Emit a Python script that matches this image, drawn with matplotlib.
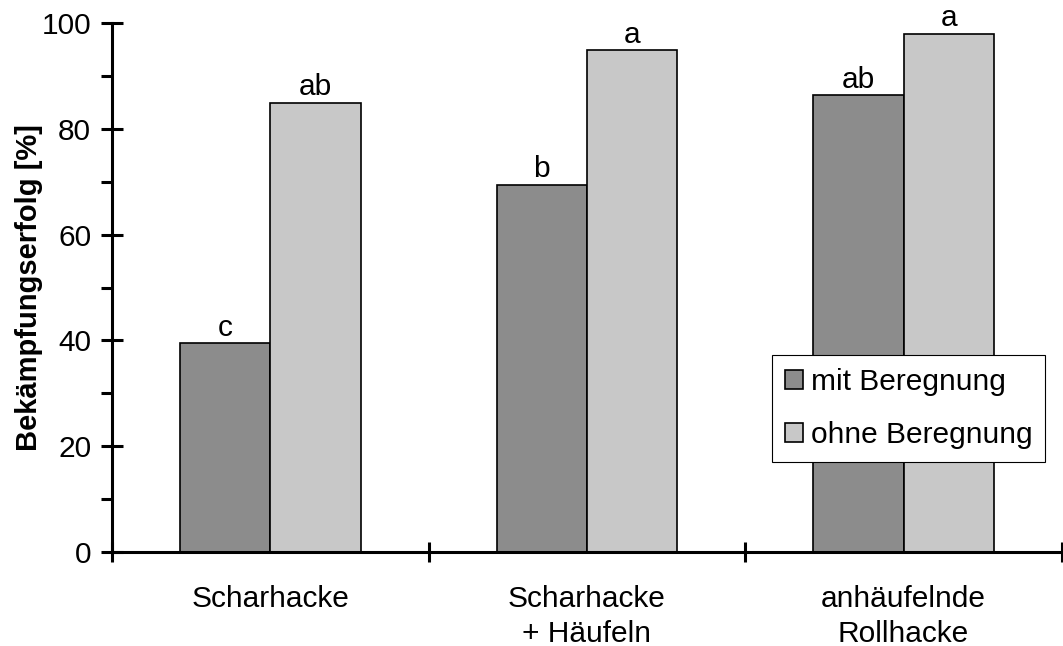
import matplotlib.pyplot as plt
import numpy as np

plt.rcParams['font.family'] = ['Liberation Sans', 'DejaVu Sans']

categories = ['Scharhacke', 'Scharhacke\n+ Häufeln', 'anhäufelnde\nRollhacke']
mit = [39.5, 69.4, 86.4]
ohne = [84.9, 94.9, 98.0]
mit_letters = ['c', 'b', 'ab']
ohne_letters = ['ab', 'a', 'a']

fs = 21.5

fig = plt.figure(figsize=(10.63, 6.46), dpi=100)
ax = fig.add_axes([0.1054, 0.1455, 0.8936, 0.8189])

centers = np.arange(len(categories)) + 0.5
w = 0.2855
b1 = ax.bar(centers - w / 2, mit, w, color='#8c8c8c', edgecolor='black',
            linewidth=1.2, label='mit Beregnung', zorder=2)
b2 = ax.bar(centers + w / 2, ohne, w, color='#c8c8c8', edgecolor='black',
            linewidth=1.2, label='ohne Beregnung', zorder=2)

for bars, letters in ((b1, mit_letters), (b2, ohne_letters)):
    for r, t in zip(bars, letters):
        ax.annotate(t, (r.get_x() + r.get_width() / 2, r.get_height()),
                    xytext=(0, 1), textcoords='offset points',
                    ha='center', va='bottom', fontsize=fs)

ax.set_xlim(0, 3)
ax.set_ylim(0, 100)
ax.spines['top'].set_visible(False)
ax.spines['right'].set_visible(False)
ax.spines['left'].set_linewidth(2.2)
ax.spines['bottom'].set_linewidth(2.2)

ax.set_yticks(np.arange(0, 101, 20))
ax.set_yticks(np.arange(10, 100, 20), minor=True)
ax.tick_params(axis='y', which='major', direction='inout', length=16,
               width=2.2, labelsize=fs, pad=7)
ax.tick_params(axis='y', which='minor', direction='out', length=8, width=2.2)

ax.set_xticks([0, 1, 2, 3])
ax.set_xticklabels([])
ax.set_xticks(centers, minor=True)
ax.set_xticklabels(categories, minor=True, linespacing=1.3)
ax.tick_params(axis='x', which='major', direction='inout', length=15, width=2.2)
ax.tick_params(axis='x', which='minor', length=0, labelsize=fs, pad=24)

ax.set_ylabel('Bekämpfungserfolg [%]', fontsize=21, fontweight='bold', labelpad=-1)

leg = ax.legend(loc='upper left', bbox_to_anchor=(0.695, 0.372), fontsize=fs,
                frameon=True, fancybox=False, edgecolor='black', framealpha=1,
                handlelength=0.6, handleheight=0.6, handletextpad=0.27,
                borderpad=0.42, labelspacing=0.85, borderaxespad=0)
leg.get_frame().set_linewidth(0.8)
for h in leg.legend_handles:
    h.set_linewidth(1.2)

fig.savefig('out.png', dpi=100)
